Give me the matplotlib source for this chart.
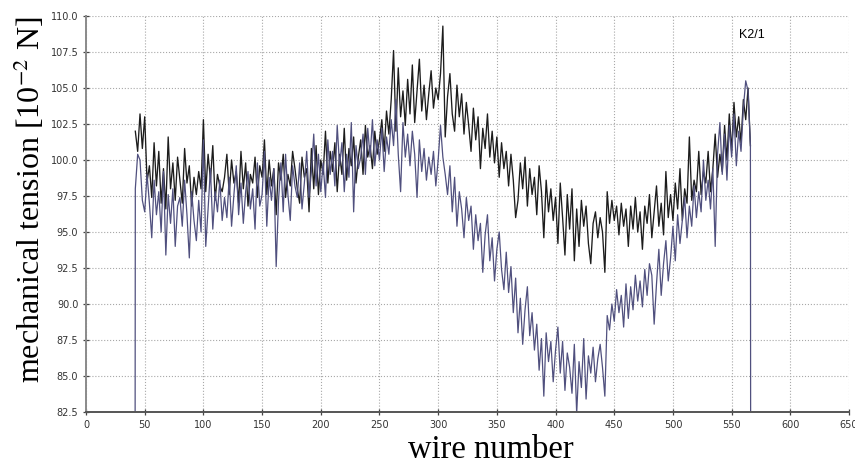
import numpy as np
import matplotlib.pyplot as plt

# Tension readings for every second wire, starting at wire 42
first_wire = 42
wire_step = 2

tension_k = [
    102.0, 100.6, 103.2, 100.8, 103.0, 98.5, 99.6, 97.4, 101.2, 98.2,
    100.6, 97.0, 99.4, 96.6, 101.6, 98.0, 99.8, 97.2, 100.2, 98.6,
    97.0, 100.8, 98.4, 99.6, 96.8, 98.8, 97.6, 99.2, 98.0, 102.8,
    97.8, 100.4, 98.6, 101.0, 97.2, 99.0, 98.2, 97.8, 98.8, 100.4,
    97.6, 100.0, 98.4, 99.2, 97.0, 100.6, 98.0, 99.8, 96.8, 99.0,
    98.4, 100.2, 97.4, 99.6, 98.8, 101.4, 97.6, 100.0, 98.2, 99.4,
    96.2, 99.8, 98.6, 100.4, 97.4, 99.0, 98.2, 100.6, 99.4, 98.0,
    97.0, 100.2, 98.8, 99.4, 96.4, 100.8, 98.0, 101.0, 97.6, 100.0,
    99.0, 102.0, 98.4, 100.6, 99.2, 101.2, 97.8, 100.4, 99.0, 102.2,
    98.6, 100.8, 99.6, 101.6, 98.4, 100.2, 101.4, 99.0, 102.4, 100.2,
    101.0, 99.4, 102.0, 100.4, 101.4, 102.8, 100.6, 103.4, 101.8, 104.2,
    107.6, 102.0, 106.4, 103.0, 104.8, 102.4, 105.6, 103.2, 106.6, 102.6,
    104.8, 107.0, 103.4, 105.2, 102.8, 104.6, 106.2, 103.6, 105.0, 104.2,
    106.0, 109.3, 101.6, 104.4, 106.0, 103.2, 102.0, 105.2, 103.0, 104.6,
    101.8, 104.0, 102.4, 100.6, 103.6, 101.4, 103.0, 99.4, 102.2, 100.8,
    103.2, 100.2, 102.0, 99.8, 101.6, 98.8, 101.2, 99.4, 100.6, 98.2,
    100.4, 98.6, 96.0, 97.2, 99.8, 98.0, 100.2, 96.8, 99.4, 97.6,
    98.8, 96.2, 99.6, 97.8, 94.6, 98.6, 96.4, 98.0, 95.8, 97.4,
    94.2, 98.4, 96.0, 93.4, 97.6, 95.2, 98.0, 93.0, 96.6, 94.0,
    97.2, 95.4, 96.8, 94.2, 92.8, 95.6, 96.4, 94.6, 96.0, 95.0,
    92.2, 97.8, 95.6, 97.2, 95.8, 96.8, 94.8, 97.0, 95.4, 96.6,
    94.0, 96.8, 95.2, 97.4, 95.0, 96.4, 93.8, 96.8, 95.6, 97.6,
    94.6, 96.4, 98.2, 95.4, 97.0, 94.8, 99.2, 96.0, 97.6, 95.8,
    98.4, 96.6, 99.4, 95.8, 98.0, 97.0, 101.6, 97.2, 98.6, 97.8,
    100.6, 97.6, 99.2, 98.4, 100.6, 97.8, 99.4, 101.8, 98.8, 100.4,
    99.2, 102.4, 100.0, 103.2, 100.6, 104.0, 101.6, 103.0, 101.2, 104.2,
    102.8, 105.0, 101.0,
]

tension_b = [
    98.0, 100.4, 100.0, 97.2, 96.4, 99.0, 97.0, 94.6, 98.6, 96.2,
    97.8, 95.0, 99.2, 93.4, 97.6, 95.6, 98.0, 94.0, 96.8, 97.4,
    95.4, 98.6, 96.2, 93.2, 97.8, 95.8, 94.4, 97.2, 95.0, 101.4,
    94.0, 96.6, 99.4, 95.2, 97.8, 96.4, 98.6, 95.8, 97.4, 96.0,
    98.8, 95.4, 97.6, 99.6, 96.2, 98.4, 95.6, 97.8, 99.2, 96.6,
    98.0, 95.2, 99.8, 96.8, 97.6, 100.6, 95.4, 98.8, 97.2, 99.4,
    92.6, 97.2, 99.8, 96.4, 100.4, 97.6, 95.8, 99.6, 98.2, 97.4,
    99.8, 96.6, 98.4, 100.6, 97.4, 99.2, 101.8, 98.2, 100.4, 97.8,
    99.8, 97.4, 101.4, 99.0, 100.6, 98.2, 102.4, 99.6, 101.2, 97.8,
    100.4, 98.8, 102.6, 96.4, 101.0, 99.4, 100.2, 101.8, 99.0, 102.2,
    100.2, 102.8, 99.6, 101.4, 100.0, 102.2, 99.2, 101.6, 100.4, 102.8,
    101.0, 104.2, 100.4, 97.8, 102.6, 100.2, 101.8, 99.6, 102.0, 100.4,
    97.4, 101.4, 99.2, 100.8, 98.6, 100.2, 99.0, 100.6, 98.2, 100.0,
    102.4, 100.2, 99.0, 97.6, 99.6, 96.4, 98.8, 95.4, 97.8, 96.6,
    94.6, 97.4, 95.8, 96.8, 93.8, 96.2, 94.4, 95.6, 92.2, 94.8,
    96.2, 93.0, 94.6, 91.6, 93.8, 95.0, 92.4, 91.0, 93.6, 90.8,
    92.6, 89.4, 91.8, 88.0, 90.4, 87.2, 89.6, 91.2, 87.8, 89.4,
    86.8, 88.6, 85.4, 87.6, 83.6, 88.0, 86.0, 87.4, 84.6, 86.8,
    88.4, 85.2, 87.4, 84.0, 86.6, 85.6, 83.8, 87.2, 82.4, 86.0,
    84.2, 87.6, 83.4, 86.4, 85.2, 87.0, 84.6, 86.2, 87.2, 85.6,
    83.6, 89.2, 88.2, 90.0, 88.8, 91.0, 89.4, 90.6, 88.4, 91.4,
    89.0, 91.2, 89.6, 92.0, 90.2, 91.6, 89.8, 92.4, 90.6, 92.8,
    92.0, 88.6, 91.4, 93.8, 90.6, 92.8, 94.4, 91.6, 93.2, 95.4,
    93.0, 96.2, 94.2, 95.8, 97.4, 94.6, 96.8, 95.4, 98.2, 96.0,
    97.8, 96.4, 100.0, 97.2, 98.6, 96.6, 99.4, 94.0, 100.4, 102.6,
    99.0, 101.8, 98.6, 102.4, 100.2, 103.2, 99.6, 102.0, 100.6, 103.6,
    105.5, 104.8, 101.0,
]

# wires just outside the measured range read zero
edge_wires = (41, 567)

wires = np.arange(len(tension_k)) * wire_step + first_wire
wires_b = np.concatenate([[edge_wires[0]], wires, [edge_wires[1]]])
vals_b = np.concatenate([[0.0], tension_b, [0.0]])

plt.rcParams['font.family'] = ['Liberation Sans Narrow', 'DejaVu Sans']
plt.rcParams['mathtext.fontset'] = 'stix'

serif = ['Liberation Serif', 'DejaVu Serif']

fig = plt.figure(figsize=(8.55, 4.72), dpi=100)
ax = fig.add_axes([0.1006, 0.1271, 0.8924, 0.839])

ax.plot(wires, tension_k, color='#1c1c1c', linewidth=0.95)
ax.plot(wires_b, vals_b, color='#50507e', linewidth=0.9)

ax.set_xlim(0, 650)
ax.set_ylim(82.5, 110.0)
ax.set_xticks(np.arange(0, 651, 50))
ax.set_yticks(np.arange(82.5, 110.01, 2.5))
ax.set_yticklabels([f'{v:.1f}' for v in np.arange(82.5, 110.01, 2.5)])

ax.grid(True, linestyle=':', color='#a8a8a8', linewidth=0.8)
ax.spines['top'].set_visible(False)
ax.spines['right'].set_visible(False)
ax.spines['left'].set_color('#8a8a8a')
ax.spines['left'].set_linewidth(1.4)
ax.spines['bottom'].set_color('#555555')
ax.spines['bottom'].set_linewidth(1.4)
ax.tick_params(direction='inout', length=5, width=0.9, color='#444444',
               labelsize=7, labelcolor='#333333', pad=3)

ax.set_xlabel('wire number', family=serif, fontsize=23.5)
ax.xaxis.set_label_coords(0.531, -0.058)
ax.set_ylabel(r'mechanical tension [10$^{-2}$ N]', family=serif, fontsize=23)
ax.yaxis.set_label_coords(-0.051, 0.535)

ax.text(0.873, 0.952, 'K2/1', transform=ax.transAxes, ha='center', va='center',
        fontsize=9, family=['Liberation Sans', 'DejaVu Sans'])

fig.savefig('out.png', dpi=100)
